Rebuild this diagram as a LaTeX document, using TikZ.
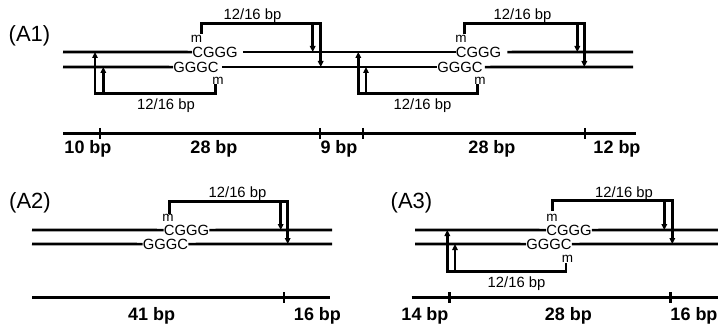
\documentclass[tikz,border=0pt]{standalone}
\usepackage{fontspec}
\setmainfont{Liberation Sans}
\usetikzlibrary{arrows.meta}
\tikzset{
  strand/.style={line width=2.7pt},
  arrw/.style={line width=2.5pt, -{Triangle[length=6pt,width=5.5pt]}},
  tickmark/.style={line width=2.7pt},
  seq/.style={font=\fontsize{14.8}{15}\selectfont, inner sep=0pt, anchor=base},
  meth/.style={font=\fontsize{13.5}{14}\selectfont, inner sep=0pt, anchor=base},
  dist/.style={font=\fontsize{14.8}{15}\selectfont, inner sep=0pt, anchor=base},
  bplab/.style={font=\bfseries\fontsize{18}{18}\selectfont, inner sep=0pt, anchor=base},
  panel/.style={font=\fontsize{22}{22}\selectfont, inner sep=0pt, anchor=base},
}
\begin{document}
\begin{tikzpicture}[x=1pt,y=-1pt]
\useasboundingbox (0,0) rectangle (718,326);

% ================= A1 =================
\node[panel] (pA1) at (29.5,42) {(A1)};
\node[seq] (c1) at (215,57.2) {CGGG};
\node[seq] (g1) at (196,72.2) {GGGC};
\node[seq] (c2) at (478.5,57.2) {CGGG};
\node[seq] (g2) at (460,72.2) {GGGC};
\node[meth] (m1t) at (196.5,43) {m};
\node[meth] (m1b) at (218,84.5) {m};
\node[meth] (m2t) at (461,43) {m};
\node[meth] (m2b) at (480,84.5) {m};
% strands
\draw[strand] (63,52) -- (c1.west);
\draw[strand] ([xshift=5pt]c1.east) -- (c2.west);
\draw[strand] ([xshift=6pt]c2.east) -- (633,52);
\draw[strand] (63,67) -- (g1.west);
\draw[strand] ([xshift=3pt]g1.east) -- (g2.west);
\draw[strand] ([xshift=2pt]g2.east) -- (633,67);
% brackets, first site
\draw[arrw] (201.7,34) |- (320.7,23.3) -- (320.7,67);
\draw[arrw] (312.7,23.3) -- (312.7,52);
\draw[arrw] (215.7,84.5) |- (95,93.5) -- (95,52);
\draw[arrw] (103.3,93.5) -- (103.3,67);
\node[dist] (d1t) at (252.5,19.5) {12/16 bp};
\node[dist] (d1b) at (166,109.5) {12/16 bp};
% brackets, second site
\draw[arrw] (464.3,34) |- (584.3,23.3) -- (584.3,67);
\draw[arrw] (577.3,23.3) -- (577.3,52);
\draw[arrw] (477.7,84.5) |- (358.3,93.5) -- (358.3,52);
\draw[arrw] (366,93.5) -- (366,67);
\node[dist] (d2t) at (522.5,19.5) {12/16 bp};
\node[dist] (d2b) at (422.5,109.5) {12/16 bp};
% scale
\draw[strand] (63,133.5) -- (636,133.5);
\foreach \tx in {100,320,363,585}
  \draw[tickmark] (\tx,128) -- (\tx,139);
\node[bplab] (s1) at (88,154) {10 bp};
\node[bplab] (s2) at (214,154) {28 bp};
\node[bplab] (s3) at (339,154) {9 bp};
\node[bplab] (s4) at (492,154) {28 bp};
\node[bplab] (s5) at (617,154) {12 bp};

% ================= A2 =================
\node[panel] (pA2) at (30,208) {(A2)};
\node[seq] (c3) at (186.5,235.2) {CGGG};
\node[seq] (g3) at (165.5,249.2) {GGGC};
\node[meth] (m3t) at (168,222) {m};
\draw[strand] (32,230) -- (c3.west);
\draw[strand] (c3.east) -- (332,230);
\draw[strand] (32,244) -- (g3.west);
\draw[strand] (g3.east) -- (332,244);
\draw[arrw] (169.3,214) |- (287.7,201.7) -- (287.7,244);
\draw[arrw] (280.7,201.7) -- (280.7,230);
\node[dist] (d3t) at (237.5,197.5) {12/16 bp};
\draw[strand] (32,297.5) -- (330,297.5);
\draw[tickmark] (284,292) -- (284,303);
\node[bplab] (s6) at (151.7,320) {41 bp};
\node[bplab] (s7) at (317.5,320) {16 bp};

% ================= A3 =================
\node[panel] (pA3) at (411.5,208) {(A3)};
\node[seq] (c4) at (569,235.2) {CGGG};
\node[seq] (g4) at (549,249.2) {GGGC};
\node[meth] (m4t) at (552,222) {m};
\node[meth] (m4b) at (567.5,262) {m};
\draw[strand] (415,230) -- (c4.west);
\draw[strand] (c4.east) -- (718,230);
\draw[strand] (415,244) -- (g4.west);
\draw[strand] (g4.east) -- (718,244);
\draw[arrw] (552.7,211) |- (672.3,200.7) -- (672.3,244);
\draw[arrw] (664.3,200.7) -- (664.3,230);
\draw[arrw] (566,263.3) |- (447.3,271.7) -- (447.3,230);
\draw[arrw] (455,271.7) -- (455,244);
\node[dist] (d4t) at (624,197) {12/16 bp};
\node[dist] (d4b) at (516.5,287) {12/16 bp};
\draw[strand] (411.7,297.5) -- (718,297.5);
\foreach \tx in {449.3,670.7}
  \draw[tickmark] (\tx,292) -- (\tx,303);
\node[bplab] (s8) at (425,320) {14 bp};
\node[bplab] (s9) at (568.3,320) {28 bp};
\node[bplab] (s10) at (694,320) {16 bp};
\end{tikzpicture}
\end{document}
